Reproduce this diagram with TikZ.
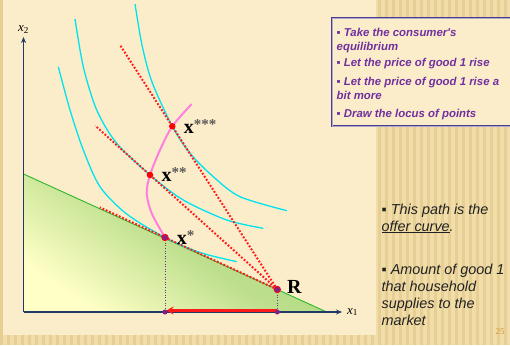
\documentclass[tikz,border=0pt]{standalone}
\usepackage{fontspec}
\setmainfont{Liberation Serif}
\newfontfamily\arialfont{Liberation Sans}
\usetikzlibrary{arrows.meta,positioning,calc}
\definecolor{panelcream}{HTML}{FCEDCA}
\definecolor{goldbase}{HTML}{F0DDAA}
\definecolor{goldstripe}{HTML}{E7CE92}
\definecolor{axisnavy}{HTML}{1F3B66}
\definecolor{budgetgreen}{HTML}{2DB52D}
\definecolor{shadegreen}{HTML}{A2D276}
\definecolor{shadeyellow}{HTML}{FFFFC6}
\definecolor{iccyan}{HTML}{00E3EE}
\definecolor{offerpink}{HTML}{FF7FDF}
\definecolor{pricered}{HTML}{FF1A1A}
\definecolor{droppurple}{HTML}{7B2D7B}
\definecolor{dotpurple}{HTML}{862086}
\definecolor{boxpurple}{HTML}{7030A0}
\definecolor{boxedge}{HTML}{4B3D8F}
\definecolor{pagegold}{HTML}{D39A3C}
\definecolor{sidegray}{HTML}{222222}
\tikzset{
  axisline/.style={draw=axisnavy, line width=1.7pt, -{Stealth[length=6pt,width=5pt]}},
  budgetline/.style={draw=budgetgreen, line width=0.9pt},
  budgetset/.style={top color=shadegreen, bottom color=shadeyellow, middle color=shadegreen!70!shadeyellow, shading angle=-35},
  icurve/.style={draw=iccyan, line width=1.3pt},
  offerline/.style={draw=offerpink, line width=2pt},
  priceline/.style={draw=pricered, line width=2pt, dash pattern=on 1.8pt off 1.8pt},
  dropline/.style={draw=droppurple, line width=0.6pt, dotted},
  supplyarrow/.style={draw=pricered, line width=2.8pt, -{Stealth[length=7pt,width=8pt]}, shorten >=1.5pt},
  reddot/.style={circle, fill=red, inner sep=0pt, minimum size=6.5pt},
  purpdot/.style={circle, fill=dotpurple, draw=red, line width=0.7pt, inner sep=0pt, minimum size=6.5pt},
  footdot/.style={circle, fill=dotpurple, inner sep=0pt, minimum size=5pt},
  ptlabel/.style={font=\fontsize{20}{22}\selectfont\bfseries, inner sep=0pt, anchor=west},
  axlabel/.style={font=\fontsize{13}{15}\selectfont, inner sep=0pt},
  infobox/.style={fill=panelcream, draw=boxedge, line width=0.7pt, double=boxedge!45, double distance=0.7pt},
  boxitem/.style={font=\arialfont\fontsize{11.4}{13.7}\selectfont\bfseries\itshape, text=boxpurple, align=left, inner sep=0pt},
  sideitem/.style={font=\arialfont\fontsize{14.4}{17}\selectfont\itshape, text=sidegray, align=left, inner sep=0pt, anchor=north west}
}
\newcommand{\starsup}[1]{\raisebox{4pt}{\fontsize{15}{15}\selectfont\textcolor{black!65}{#1}}}

\begin{document}
\begin{tikzpicture}[x=1pt, y=-1pt]
\useasboundingbox (0,0) rectangle (510,345);
\fill[goldbase] (0,0) rectangle (510,345);
\foreach \sx in {0,7,...,507} \fill[goldstripe] (\sx,0) rectangle ++(3,345);
\fill[panelcream] (3,0) rectangle (376,335);
\coordinate (O) at (23.5,312);
\coordinate (ytop) at (23.5,37);
\coordinate (xend) at (342,312);
\coordinate (B2) at (23.5,174);
\coordinate (B1) at (326.7,312);
\coordinate (R) at (277.3,289.5);
\coordinate (xs) at (165,237.5);
\coordinate (xss) at (150,175);
\coordinate (xsss) at (172.3,126.3);
\coordinate (Rx) at (277.3,312);
\coordinate (xsx) at (165,312);
\shade[budgetset] (O) -- (B2) -- (B1) -- cycle;
\draw[budgetline] (B2) -- (B1);
\draw[axisline] (O) -- (ytop);
\draw[axisline] (O) -- (xend);
\node[axlabel, above=3pt of ytop] (x2lab) {\textit{x}\textsubscript{2}};
\node[axlabel, right=5pt of xend] (x1lab) {\textit{x}\textsubscript{1}};
\draw[icurve] plot[smooth] coordinates {(58.3,66.7) (70,110) (83.3,150) (100,186.7) (126.7,214) (xs) (200,252.5) (236.7,261.7)};
\draw[icurve] plot[smooth] coordinates {(75,19) (83.3,66.7) (96.7,110) (116.7,143.3) (xss) (183.3,200) (226.7,220) (263.3,228.3)};
\draw[icurve] plot[smooth] coordinates {(135,4) (142,45) (152,82) (xsss) (190,153.3) (213.3,176.7) (240,196.7) (287,210.7)};
\draw[priceline] (R) -- ($(R)!1.58!(xs)$);
\draw[priceline] (R) -- ($(R)!1.43!(xss)$);
\draw[priceline] (R) -- ($(R)!1.5!(xsss)$);
\draw[offerline] plot[smooth] coordinates {(xs) (151.7,213.3) (146.7,193.3) (xss) (160,150) (xsss) (191.7,104)};
\draw[dropline] (xs) -- (xsx);
\draw[dropline] (R) -- (Rx);
\draw[supplyarrow] ([yshift=1.5pt]Rx) -- ([yshift=1.5pt]xsx);
\node[footdot] (xsxdot) at (xsx) {};
\node[footdot] (Rxdot) at (Rx) {};
\node[reddot] (xsssdot) at (xsss) {};
\node[reddot] (xssdot) at (xss) {};
\node[purpdot] (xsdot) at (xs) {};
\node[purpdot] (Rdot) at (R) {};
\node[ptlabel, right=8pt of xsdot] (xslab) {x\starsup{*}};
\node[ptlabel, right=8pt of xssdot] (xsslab) {x\starsup{**}};
\node[ptlabel, right=8pt of xsssdot] (xssslab) {x\starsup{***}};
\node[ptlabel, right=6pt of Rdot, yshift=3pt] (Rlab) {R};
\filldraw[infobox] (332,18) rectangle (514,126);
\node[boxitem, anchor=north west] (take) at (336.5,28.5) {▪ Take the consumer's\\equilibrium};
\node[boxitem, below=4.5pt of take.south west, anchor=north west] (rise) {▪ Let the price of good 1 rise};
\node[boxitem, below=8.5pt of rise.south west, anchor=north west] (more) {▪ Let the price of good 1 rise a\\bit more};
\node[boxitem, below=9pt of more.south west, anchor=north west] (locus) {▪ Draw the locus of points};
\node[sideitem] (offer) at (381.5,203.5) {▪ This path is the\\\underline{offer curve}.};
\node[sideitem, below=30pt of offer.south west, anchor=north west] (amount) {▪ Amount of good 1\\that household\\supplies to the\\market};
\node[font=\fontsize{9}{9}\selectfont, text=pagegold, inner sep=0pt] (pagenum) at (500,332) {25};
\end{tikzpicture}
\end{document}
